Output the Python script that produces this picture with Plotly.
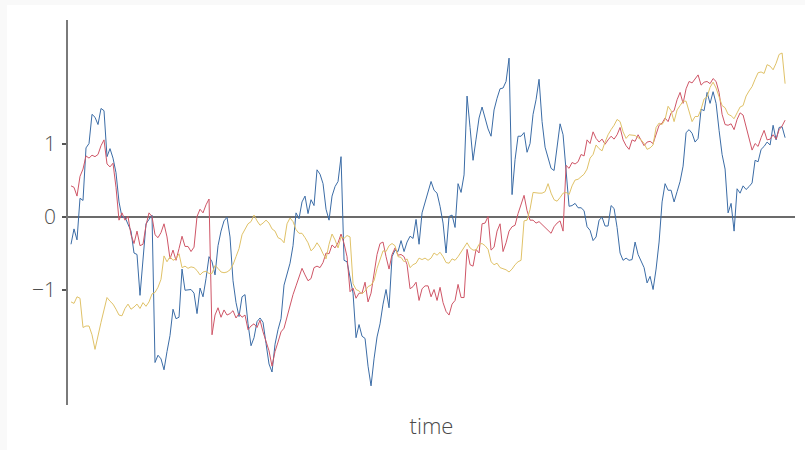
import plotly.graph_objects as go

# Three random-walk series sampled on a common time index
blue = [
    -0.38, -0.17, -0.32, 0.25, 0.22, 0.94, 1.00, 1.40, 1.36, 1.26, 1.48, 1.45, 0.82, 0.93, 0.80, 0.60, 0.20,
    -0.01, -0.01, -0.10, -0.20, -0.50, -0.52, -1.08, -0.62, -0.10, -0.04, 0.02, -2.00, -1.90, -1.95, -2.10,
    -1.85, -1.63,
    -1.27, -1.40, -1.38, -0.72, -1.01, -1.00, -1.00, -1.05, -1.33, -0.98, -1.10, -0.85, -0.55, -0.62, -0.80,
    -0.40, -0.20, -0.06, -0.01, -0.28, -0.88, -1.18, -1.37, -1.10, -1.07, -1.47, -1.77, -1.66, -1.44, -1.39,
    -1.45, -1.74, -2.02, -2.13, -1.75,
    -1.55, -1.40, -0.94, -0.78, -0.64, -0.40, 0.05, -0.03, 0.20, 0.28, 0.04, 0.23, 0.15, 0.64, 0.58, 0.45,
    0.10, -0.05, 0.28, 0.41, 0.48, 0.82, -0.60, -0.62, -0.83, -1.05, -1.66, -1.48, -1.64, -1.67, -2.05, -2.32,
    -1.95, -1.65, -1.47,
    -1.20, -1.00, -1.25, -0.55, -0.46, -0.48, -0.33, -0.48, -0.35, -0.27, -0.30, -0.04, -0.38, 0.05, 0.20,
    0.33, 0.48, 0.36, 0.32, 0.14, -0.09, -0.50, 0.00, 0.02, -0.15, 0.45, 0.33, 0.57, 1.65, 1.22, 0.77, 1.06,
    1.35, 1.50, 1.33,
    1.20, 1.10, 1.46, 1.62, 1.75, 1.76, 1.85, 2.17, 0.30, 0.78, 1.10, 1.10, 1.15, 0.88, 1.00, 1.40, 1.60, 1.88,
    1.30, 0.95, 0.80, 0.66, 0.63, 0.95, 1.27, 1.12, 0.60, 0.14, 0.15, 0.18, 0.12, 0.12, 0.08, -0.14, -0.19,
    -0.33, -0.28, -0.05, -0.01, -0.13, -0.13, 0.15, 0.11, -0.15, -0.50, -0.60, -0.57, -0.60, -0.59, -0.35,
    -0.52, -0.61, -0.70, -0.91, -0.82, -1.00, -0.72, -0.35, 0.20, 0.45, 0.36, 0.36, 0.20, 0.34, 0.48, 0.69,
    1.15, 1.19, 1.14, 1.02,
    1.07, 1.47, 1.45, 1.70, 1.55, 1.71, 1.55, 1.18, 0.85, 0.65, 0.05, 0.18, -0.20, 0.38, 0.32, 0.42, 0.37,
    0.41, 0.46, 0.77, 0.75, 0.92, 0.96, 1.02, 0.98, 1.25, 1.05, 1.22, 1.23, 1.08,
]

red = [
    0.42, 0.40, 0.28, 0.55, 0.65, 0.83, 0.80, 0.84, 0.82, 0.85, 0.97, 1.05, 0.72, 0.68, 0.73, 0.40, -0.05,
    0.05, -0.05, 0.00, -0.25, -0.37, -0.20, -0.40, -0.38, -0.12, 0.05, 0.00, -0.25, -0.29, -0.22, -0.10,
    -0.28, -0.58,
    -0.46, -0.60, -0.44, -0.27, -0.41, -0.41, -0.48, -0.42, 0.00, 0.10, 0.05, 0.16, 0.24, -1.62, -1.35,
    -1.25, -1.38, -1.28, -1.35, -1.33, -1.29, -1.39, -1.33, -1.38, -1.35, -1.55, -1.50, -1.47, -1.52, -1.42,
    -1.58, -1.70, -1.84, -2.05, -1.85,
    -1.72, -1.58, -1.53, -1.38, -1.20, -1.07, -0.95, -0.82, -0.71, -0.80, -0.88, -0.85, -0.70, -0.68, -0.70,
    -0.63, -0.50, -0.51, -0.39, -0.43, -0.36, -0.24, -0.37, -0.55, -1.03, -0.98, -1.12, -1.05, -1.05, -0.90,
    -1.17, -1.05, -0.80, -0.52, -0.37,
    -0.35, -0.55, -0.72, -0.52, -0.43, -0.53, -0.52, -0.55, -0.66, -0.99, -0.96, -0.90, -1.15, -0.99, -0.95,
    -0.95, -1.10, -1.00, -1.15, -0.97, -1.18, -1.30, -1.35, -1.20, -1.15, -0.93, -1.11, -1.11, -0.45, -0.66,
    -0.68, -0.45, -0.50, -0.10, -0.09,
    0.00, -0.46, -0.42, -0.20, -0.10, -0.48, -0.36, -0.20, -0.14, -0.12, 0.04, 0.18, 0.29, 0.08, -0.05,
    -0.05, -0.09, -0.07, -0.11, -0.14, -0.18, -0.23, -0.14, -0.09, -0.06, -0.20, 0.70, 0.66, 0.74, 0.72,
    0.75, 0.85, 0.83, 1.05, 1.00,
    1.16, 1.07, 1.02, 1.06, 0.99, 1.05, 1.10, 1.06, 1.12, 1.22, 1.05, 0.97, 0.92, 1.05, 1.03, 1.12, 1.04,
    0.97, 1.02, 1.03, 1.00, 1.12, 1.25, 1.28, 1.35, 1.30, 1.42, 1.45, 1.60, 1.70, 1.55, 1.75, 1.85, 1.83,
    1.88,
    1.94, 1.80, 1.84, 1.85, 1.82, 1.89, 1.85, 1.70, 1.40, 1.26, 1.25, 1.27, 1.19, 1.33, 1.42, 1.39, 1.22,
    1.05, 0.91, 1.00, 0.96, 1.08, 1.18, 1.05, 1.06, 1.12, 1.06, 1.19, 1.24, 1.32,
]

yellow = [
    -1.17, -1.19, -1.10, -1.12, -1.52, -1.50, -1.50, -1.62, -1.82, -1.62, -1.45, -1.28, -1.11, -1.16, -1.20,
    -1.27, -1.35, -1.36, -1.26, -1.20, -1.27, -1.24, -1.20, -1.26, -1.18, -1.23, -1.17, -1.06, -1.04, -0.97,
    -0.86, -0.54, -0.62, -0.55,
    -0.60, -0.58, -0.51, -0.70, -0.68, -0.71, -0.69, -0.70, -0.74, -0.80, -0.76, -0.75, -0.78, -0.78, -0.67,
    -0.71, -0.76, -0.77, -0.76, -0.73, -0.66, -0.55, -0.44, -0.25, -0.18, -0.10, -0.07, 0.02, -0.06, -0.12,
    -0.09, -0.05, -0.09, -0.17, -0.20,
    -0.29, -0.31, -0.36, -0.10, -0.02, -0.07, -0.18, -0.23, -0.23, -0.29, -0.36, -0.47, -0.43, -0.36, -0.42,
    -0.51, -0.58, -0.38, -0.24, -0.32, -0.43, -0.28, -0.30, -0.26, -0.28, -0.92, -1.00, -1.02, -1.06, -1.02,
    -0.96, -0.94, -0.88, -0.71, -0.60,
    -0.47, -0.48, -0.40, -0.37, -0.40, -0.55, -0.56, -0.62, -0.58, -0.70, -0.66, -0.64, -0.57, -0.59, -0.57,
    -0.60, -0.57, -0.50, -0.53, -0.49, -0.55, -0.63, -0.64, -0.58, -0.60, -0.55, -0.49, -0.42, -0.36, -0.43,
    -0.46, -0.46, -0.38, -0.37, -0.40,
    -0.45, -0.62, -0.66, -0.64, -0.70, -0.71, -0.73, -0.76, -0.72, -0.66, -0.62, -0.60, -0.06, -0.05, 0.10,
    0.33, 0.32, 0.32, 0.32, 0.34, 0.45, 0.32, 0.23, 0.21, 0.26, 0.32, 0.33, 0.30, 0.42, 0.50, 0.51, 0.54,
    0.58, 0.65, 0.80,
    0.85, 0.98, 0.93, 0.90, 1.02, 1.12, 1.19, 1.25, 1.33, 1.30, 1.16, 1.07, 1.12, 1.11, 1.11, 1.08, 1.05,
    1.00, 0.92, 0.94, 0.98, 1.22, 1.28, 1.26, 1.33, 1.51, 1.45, 1.30, 1.46, 1.52, 1.58, 1.58, 1.43, 1.30,
    1.37,
    1.37, 1.47, 1.61, 1.64, 1.77, 1.84, 1.76, 1.64, 1.52, 1.49, 1.40, 1.38, 1.34, 1.42, 1.50, 1.52, 1.65,
    1.72, 1.78, 1.88, 1.97, 1.98, 1.96, 2.08, 2.06, 2.01, 2.10, 2.22, 2.24, 1.82,
]

time = list(range(len(blue)))

tick_vals = [-1, 0, 1]
tick_text = ["\u22121", "0", "1"]

series = [
    ("blue", blue, "#3b6ca6"),
    ("red", red, "#cf5667"),
    ("yellow", yellow, "#e0c268"),
]

fig = go.Figure()
for name, vals, color in series:
    fig.add_trace(go.Scatter(
        x=time, y=vals, mode="lines", name=name,
        line=dict(color=color, width=1),
        hoverinfo="skip",
    ))

W, H = 805, 450
ml, mr, mt, mb = 68, 10, 20, 45
pw, ph = W - ml - mr, H - mt - mb


def px_x(px):
    return (px - ml) / pw


def px_y(py):
    return (mt + ph - py) / ph


# white card over a light grey page
fig.add_shape(
    type="rect", xref="paper", yref="paper", layer="below",
    x0=px_x(7), x1=px_x(W + 2), y0=px_y(H + 2), y1=px_y(5),
    fillcolor="white", line=dict(width=0),
)

fig.update_layout(
    width=W, height=H,
    margin=dict(l=ml, r=mr, t=mt, b=mb, autoexpand=False),
    paper_bgcolor="#f9f9f9",
    plot_bgcolor="white",
    showlegend=False,
    font=dict(family="Open Sans, Lato, sans-serif", color="#555"),
    xaxis=dict(
        range=[-1, 241.3],
        showgrid=False, zeroline=False, showline=False,
        showticklabels=False, ticks="",
        title=dict(text="time", font=dict(size=22, color="#4a4a4a", weight=300), standoff=13),
    ),
    yaxis=dict(
        range=[-2.582, 2.692],
        showgrid=False,
        zeroline=True, zerolinecolor="#6b6b6b", zerolinewidth=1.5,
        showline=True, linecolor="#7a7a7a", linewidth=1.5,
        ticks="outside", ticklen=4, tickcolor="#555", tickwidth=1.5,
        tickvals=tick_vals, ticktext=tick_text,
        tickfont=dict(size=21, color="#4f4f4f", weight=300),
        ticklabelstandoff=2,
    ),
)

fig.write_html("out.html")
